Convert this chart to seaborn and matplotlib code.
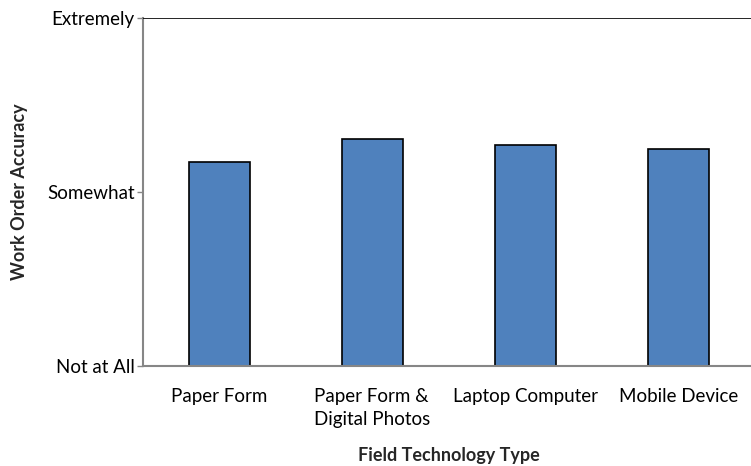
import matplotlib
matplotlib.use("Agg")
import matplotlib.pyplot as plt
import seaborn as sns
import pandas as pd

categories = ["Paper Form", "Paper Form &\nDigital Photos", "Laptop Computer", "Mobile Device"]
accuracy = [2.17, 2.305, 2.27, 2.245]
level_values = [1, 2, 3]
level_labels = ["Not at All", "Somewhat", "Extremely"]

sns.set_theme(style="white")
plt.rcParams["font.family"] = ["Lato", "DejaVu Sans"]

df = pd.DataFrame({"tech": categories, "acc": accuracy})

fig = plt.figure(figsize=(7.51, 4.66), dpi=100)
ax = fig.add_axes([143 / 751, 100 / 466, 612 / 751, 348 / 466])

sns.barplot(data=df, x="tech", y="acc", color="#4f81bd", width=0.4,
            edgecolor="black", linewidth=1.2, saturation=1, ax=ax)

fs = 13.5
ax.set_ylim(1, 3)
ax.set_xlim(-0.5, 3.5)
ax.set_yticks(level_values)
ax.set_yticklabels(level_labels, fontsize=fs, color="black")
ax.tick_params(axis="y", length=4, width=1, color="#868686", direction="out", pad=2, left=True)
ax.tick_params(axis="x", length=0, labelsize=fs, pad=16, labelcolor="black")
for lbl in ax.get_xticklabels():
    lbl.set_horizontalalignment("center")
    lbl.set_multialignment("left")
    lbl.set_linespacing(1.4)

ax.axhline(3, color="black", linewidth=1.2, zorder=5)
for side in ["top", "right"]:
    ax.spines[side].set_visible(False)
for side in ["left", "bottom"]:
    ax.spines[side].set_color("#868686")
    ax.spines[side].set_linewidth(1.5)

ax.set_xlabel("Field Technology Type", fontsize=fs - 0.5, fontweight="bold", labelpad=14)
ax.set_ylabel("Work Order Accuracy", fontsize=fs - 0.5, fontweight="bold", labelpad=14)

fig.savefig("out.png", dpi=100)
